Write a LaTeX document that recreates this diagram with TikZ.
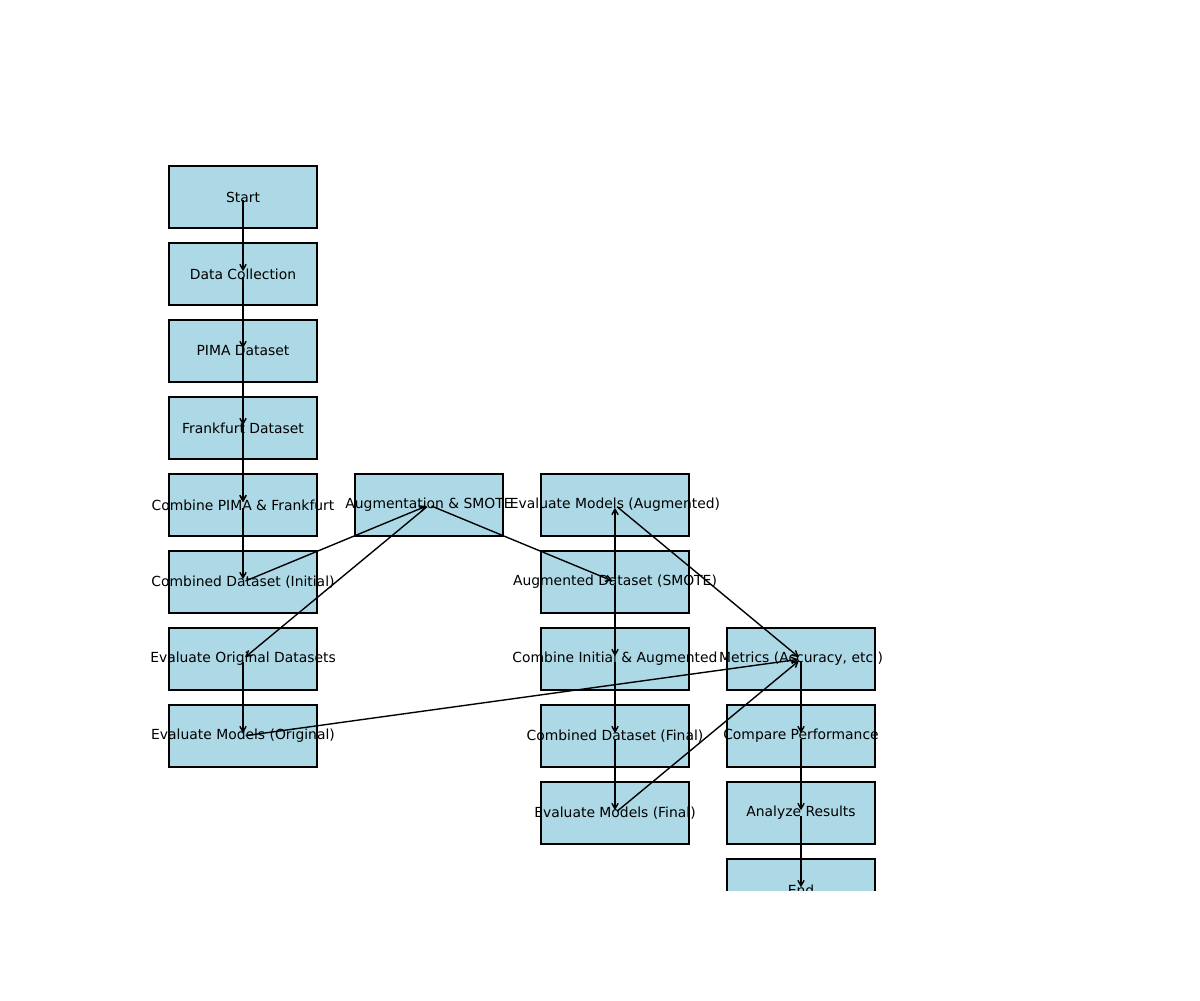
\documentclass[tikz,border=0pt]{standalone}
\usepackage{fontspec}
\setmainfont{DejaVu Sans}
\usetikzlibrary{arrows.meta}
\definecolor{lightblue}{HTML}{ADD8E6}
\begin{document}
\begin{tikzpicture}[x=0.72pt,y=-0.72pt,
  box/.style={draw=black,line width=1pt,fill=lightblue,minimum width=148*0.72pt,minimum height=62*0.72pt,inner sep=0pt,outer sep=0pt},
  lbl/.style={font=\fontsize{10pt}{12pt}\selectfont,inner sep=0pt},
  arr/.style={line width=1pt,-{Straight Barb[length=4pt,width=4.5pt,line width=1pt]},shorten <=2pt,shorten >=2pt}]
\useasboundingbox (0,0) rectangle (1200,1000);
\begin{scope}
\clip (0,0) rectangle (1200,890);
% boxes
\foreach \n/\x/\y in {s/243/197,dc/243/274,pima/243/351,fr/243/428,cpf/243/505,ci/243/582,eod/243/659,emo/243/736,
  aug/429/505,
  ema/615/505,ads/615/582,cia/615/659,cdf/615/736,emf/615/813,
  met/801/659,cmp/801/736,ana/801/813,en/801/890}
  \node[box] (b\n) at (\x,\y) {};
% labels
\node[lbl] (s) at (bs) {Start};
\node[lbl] (dc) at (bdc) {Data Collection};
\node[lbl] (pima) at (bpima) {PIMA Dataset};
\node[lbl] (fr) at (bfr) {Frankfurt Dataset};
\node[lbl] (cpf) at (bcpf) {Combine PIMA \& Frankfurt};
\node[lbl] (ci) at (bci) {Combined Dataset (Initial)};
\node[lbl] (eod) at (beod) {Evaluate Original Datasets};
\node[lbl] (emo) at (bemo) {Evaluate Models (Original)};
\node[lbl] (aug) at (baug) {Augmentation \& SMOTE};
\node[lbl] (ema) at (bema) {Evaluate Models (Augmented)};
\node[lbl] (ads) at (bads) {Augmented Dataset (SMOTE)};
\node[lbl] (cia) at (bcia) {Combine Initial \& Augmented};
\node[lbl] (cdf) at (bcdf) {Combined Dataset (Final)};
\node[lbl] (emf) at (bemf) {Evaluate Models (Final)};
\node[lbl] (met) at (bmet) {Metrics (Accuracy, etc.)};
\node[lbl] (cmp) at (bcmp) {Compare Performance};
\node[lbl] (ana) at (bana) {Analyze Results};
\node[lbl] (en) at (ben) {End};
% connectors
\foreach \a/\b in {s/dc,dc/pima,dc/fr,pima/cpf,fr/cpf,cpf/ci,ci/aug,aug/eod,eod/emo,emo/met,
  aug/ads,ads/ema,ads/cia,cia/cdf,cdf/emf,emf/met,ema/met,met/cmp,cmp/ana,ana/en}
  \draw[arr] (b\a.center) -- (b\b.center);
\end{scope}
\end{tikzpicture}
\end{document}
